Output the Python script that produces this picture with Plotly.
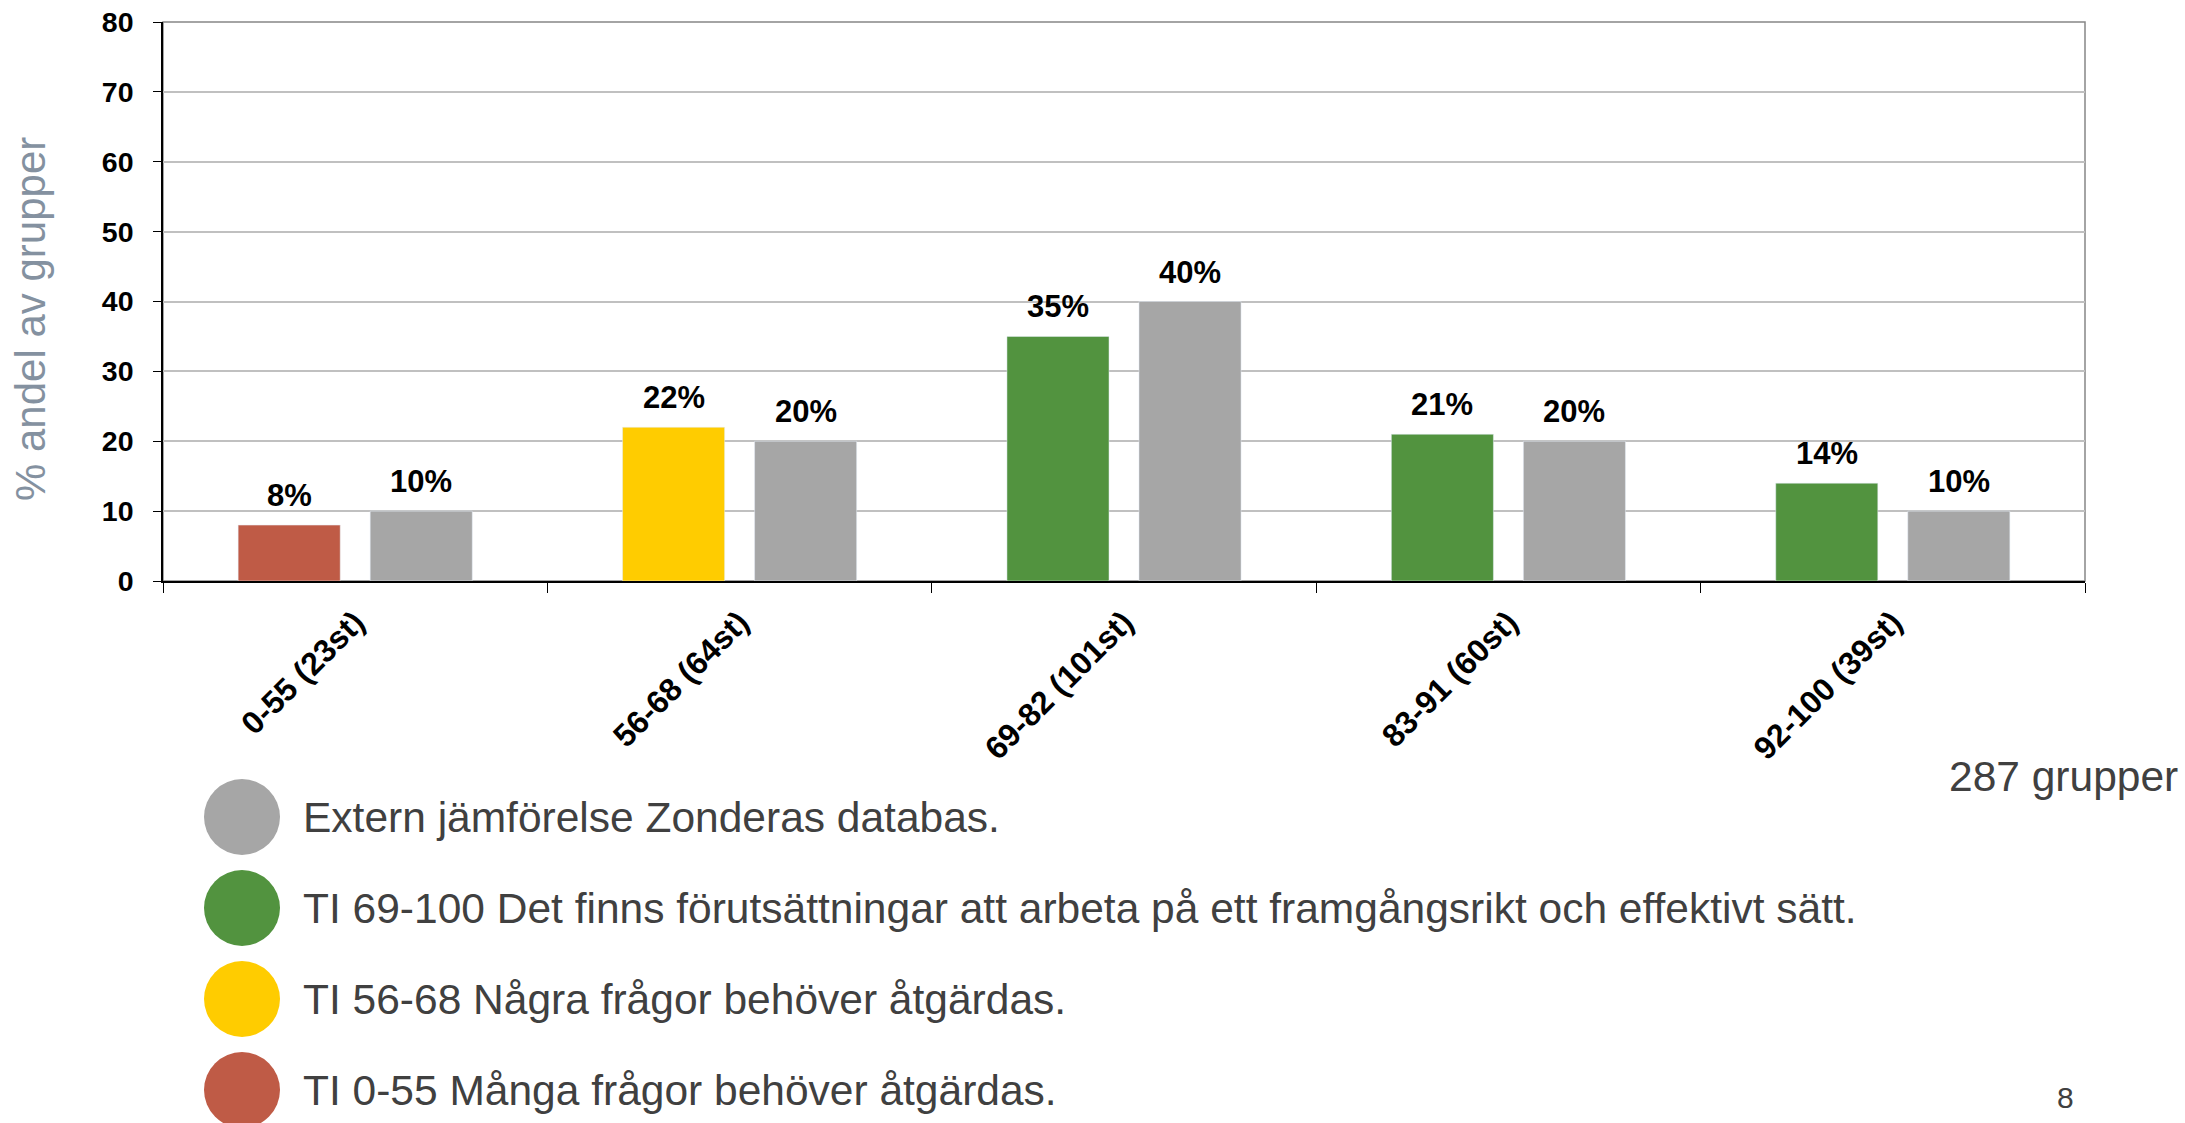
import plotly.graph_objects as go

# data
categories = ["0-55 (23st)", "56-68 (64st)", "69-82 (101st)", "83-91 (60st)", "92-100 (39st)"]
ti_values = [8, 22, 35, 21, 14]
extern_values = [10, 20, 40, 20, 10]

legend_labels = [
    "Extern jämförelse Zonderas databas.",
    "TI 69-100 Det finns förutsättningar att arbeta på ett framgångsrikt och effektivt sätt.",
    "TI 56-68 Några frågor behöver åtgärdas.",
    "TI 0-55 Många frågor behöver åtgärdas.",
]
y_title = "% andel av grupper"
total_note = "287 grupper"
page_no = "8"

RED = "#BF5B46"
YELLOW = "#FFCC00"
GREEN = "#52933F"
GRAY = "#A6A6A6"
ti_colors = [RED, YELLOW, GREEN, GREEN, GREEN]
legend_colors = [GRAY, GREEN, YELLOW, RED]

FONT = "Liberation Sans, Arial, sans-serif"
TEXT = "#404040"

W, H = 2185, 1123
L, R, T, B = 163, 100, 22, 542
pw, ph = W - L - R, H - T - B
BARGAP, GROUPGAP = 0.313, 0.227


def px_x(x):
    return (x - L) / pw


def px_y(y):
    return (H - B - y) / ph


fig = go.Figure()
fig.add_bar(x=categories, y=ti_values, marker_color=ti_colors, showlegend=False)
fig.add_bar(x=categories, y=extern_values, marker_color=GRAY, showlegend=False)

# value labels above each bar (bar centre sits half a slot off the category centre)
slot = pw / len(categories) * (1 - BARGAP) / 2
for values, shift in ((ti_values, -slot / 2), (extern_values, slot / 2)):
    for cat, v in zip(categories, values):
        fig.add_annotation(x=cat, y=v, text=f"{v}%", showarrow=False,
                           xshift=shift, yshift=10, yanchor="bottom",
                           font=dict(size=31, color="black", family=FONT, weight="bold"))

# plot frame (top/right in grey)
fig.add_shape(type="rect", xref="paper", yref="paper", x0=0, x1=1, y0=0, y1=1,
              line=dict(color="#868686", width=1.5), layer="below")

# custom legend with big circles
for i, (lab, col) in enumerate(zip(legend_labels, legend_colors)):
    yc = px_y(817 + i * 91)
    fig.add_shape(type="circle", xref="paper", yref="paper",
                  xsizemode="pixel", ysizemode="pixel",
                  xanchor=px_x(242), yanchor=yc, x0=-38, x1=38, y0=-38, y1=38,
                  fillcolor=col, line=dict(width=0))
    fig.add_annotation(x=px_x(301), y=yc, xref="paper", yref="paper",
                       text=lab, showarrow=False, xanchor="left", yanchor="middle",
                       font=dict(size=42.5, color=TEXT, family=FONT))

fig.add_annotation(x=px_x(30), y=px_y(319), xref="paper", yref="paper",
                   text=y_title, textangle=-90, showarrow=False,
                   xanchor="center", yanchor="middle",
                   font=dict(size=42, color="#8491A0", family=FONT))
fig.add_annotation(x=px_x(2180), y=px_y(776), xref="paper", yref="paper",
                   text=total_note, showarrow=False, xanchor="right", yanchor="middle",
                   font=dict(size=42.5, color=TEXT, family=FONT))
fig.add_annotation(x=px_x(2065), y=px_y(1097), xref="paper", yref="paper",
                   text=page_no, showarrow=False, xanchor="center", yanchor="middle",
                   font=dict(size=30, color=TEXT, family=FONT))

fig.update_layout(
    width=W, height=H,
    margin=dict(l=L, r=R, t=T, b=B),
    paper_bgcolor="white", plot_bgcolor="white",
    barmode="group", bargap=BARGAP, bargroupgap=GROUPGAP,
    font=dict(family=FONT, color="black"),
    xaxis=dict(
        showline=True, linecolor="black", linewidth=1.5,
        ticks="outside", tickson="boundaries", ticklen=10, tickcolor="black",
        tickangle=-45, tickfont=dict(size=32, weight="bold", color="black"),
        ticklabelstandoff=8, showgrid=False, automargin=False,
    ),
    yaxis=dict(
        range=[0, 80], dtick=10,
        showgrid=True, gridcolor="#C0C0C0", gridwidth=1.5,
        showline=True, linecolor="black", linewidth=1.5, zeroline=False,
        ticks="outside", ticklen=8, tickcolor="black",
        tickfont=dict(size=28.5, weight="bold", color="black"),
        ticklabelstandoff=14, automargin=False,
    ),
)

# the page's default 8px body margin would shift the whole figure
fig.write_html("out.html", config={"displayModeBar": False},
               post_script="document.body.style.margin='0px';")
